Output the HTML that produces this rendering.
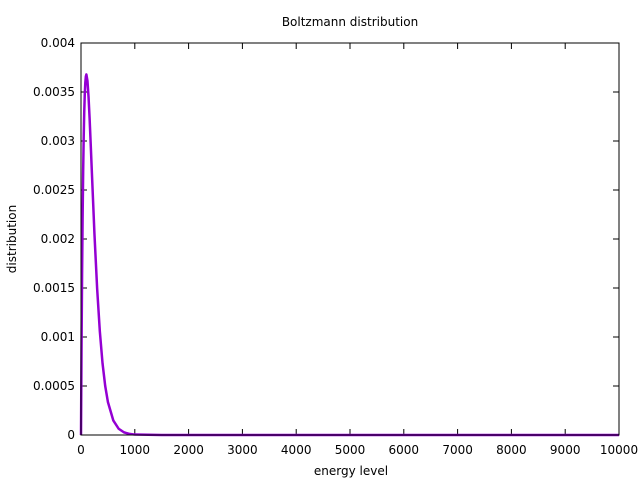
<!DOCTYPE html>
<html><head><meta charset="utf-8"><style>
body{margin:0;background:#fff}
svg text{font-family:"DejaVu Sans",sans-serif;font-size:12px;fill:#000}
</style></head><body>
<svg id="chart" width="640" height="480">
<rect width="640" height="480" fill="#fff"/>
<text x="350" y="26" text-anchor="middle">Boltzmann distribution</text>
<text x="351" y="475" text-anchor="middle">energy level</text>
<text transform="translate(16,239) rotate(-90)" text-anchor="middle">distribution</text>
<g id="axes"></g>
<path id="curve" fill="none" stroke="#9400d3" stroke-width="2.5" stroke-linejoin="round"/>
<rect x="81" y="43" width="538" height="392" fill="none" stroke="#000" stroke-width="1"/>
</svg>
<script>
const energies=[0,10,20,30,40,50,60,70,80,90,100,120,140,160,180,200,250,300,350,400,450,500,600,700,800,900,1000,1500,10000];
const values=[0,0.000905,0.001637,0.002222,0.002681,0.003033,0.003293,0.003476,0.003595,0.003659,0.003679,0.003614,0.003452,0.00323,0.002975,0.002707,0.002052,0.001494,0.001058,0.000733,0.0005,0.000337,0.000149,0.0000638,0.0000268,0.0000111,0.0000045,0,0];
const xTicks=[0,1000,2000,3000,4000,5000,6000,7000,8000,9000,10000];
const yTicks=[0,0.0005,0.001,0.0015,0.002,0.0025,0.003,0.0035,0.004];
const yLabels=["0","0.0005","0.001","0.0015","0.002","0.0025","0.003","0.0035","0.004"];
const X0=81,X1=619,Y0=435,Y1=43;
const sx=v=>X0+(v-0)/10000*(X1-X0);
const sy=v=>Y0-(v/0.004)*(Y0-Y1);
const NS="http://www.w3.org/2000/svg";
const ax=document.getElementById('axes');
function mk(t,a){const e=document.createElementNS(NS,t);for(const k in a)e.setAttribute(k,a[k]);return e;}
xTicks.forEach((v,i)=>{
  const x=sx(v);
  const t1=mk('line',{x1:x,x2:x,y1:Y0,y2:Y0-6,stroke:'#000'});
  
  
  ax.appendChild(t1);
  const t2=mk('line',{x1:x,x2:x,y1:Y1,y2:Y1+6,stroke:'#000'});
  
  
  ax.appendChild(t2);
  const l=mk('text',{x:x,y:Y0+19,'text-anchor':'middle'});
  l.textContent=String(v);
  
  
  ax.appendChild(l);
});
yTicks.forEach((v,i)=>{
  const y=sy(v);
  const t1=mk('line',{x1:X0,x2:X0+6,y1:y,y2:y,stroke:'#000'});
  
  
  ax.appendChild(t1);
  const t2=mk('line',{x1:X1,x2:X1-6,y1:y,y2:y,stroke:'#000'});
  
  
  ax.appendChild(t2);
  const l=mk('text',{x:X0-6,y:y+4,'text-anchor':'end'});
  l.textContent=yLabels[i];
  
  
  ax.appendChild(l);
});
document.getElementById('curve').setAttribute('d',energies.map((e,i)=>(i?'L':'M')+sx(e).toFixed(2)+','+sy(values[i]).toFixed(2)).join(''));
</script>
</body></html>
